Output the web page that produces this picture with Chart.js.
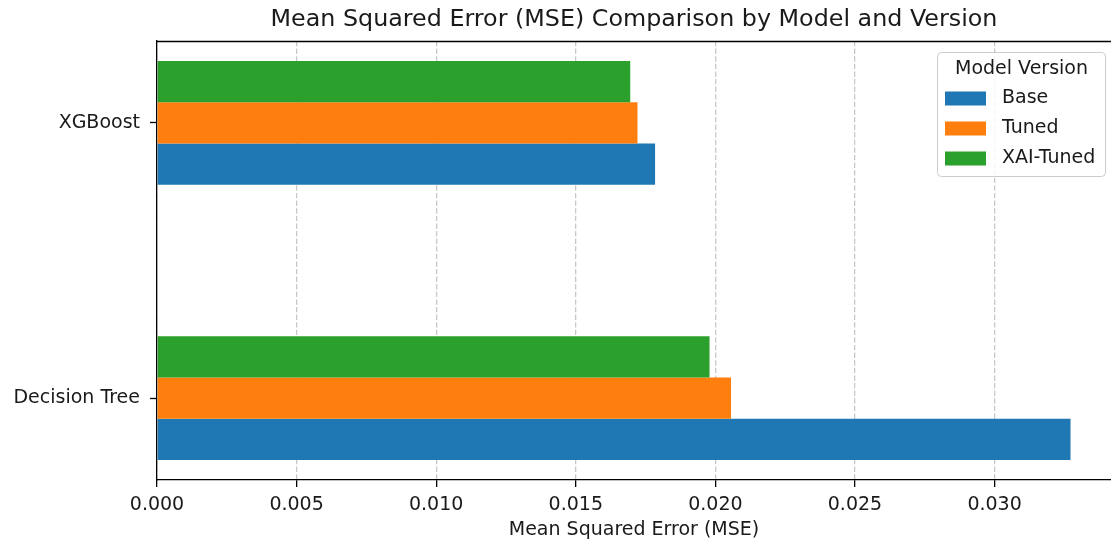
<!DOCTYPE html>
<html>
<head>
<meta charset="utf-8">
<script src="https://cdn.jsdelivr.net/npm/chart.js@4.4.1/dist/chart.umd.min.js"></script>
<style>
  html, body { margin: 0; padding: 0; background: #ffffff; }
  #wrap { width: 1111px; height: 542px; }
</style>
</head>
<body>
<div id="wrap"><canvas id="c" width="1111" height="542"></canvas></div>
<script>
// Models on the vertical axis (bottom to top) and the three model versions
const models = ['Decision Tree', 'XGBoost'];
const versions = ['Base', 'Tuned', 'XAI-Tuned'];

// Mean squared error per model, one array per version
const baseMSE = [0.03272, 0.01784];
const tunedMSE = [0.02056, 0.01721];
const xaiTunedMSE = [0.01979, 0.01695];

const versionColors = ['#1f77b4', '#ff7f0e', '#2ca02c'];
const seriesValues = [baseMSE, tunedMSE, xaiTunedMSE];

const FONT = 'DejaVu Sans';
const TEXT = '#1a1a1a';
const TITLE = 'Mean Squared Error (MSE) Comparison by Model and Version';

// Bars within a group are laid out top-down, so feed the versions in reverse
// to keep Base at the bottom of each group.
const datasets = versions.map((name, i) => ({
  label: name,
  data: models.map((m, j) => ({ x: seriesValues[i][j], y: j })),
  backgroundColor: versionColors[i],
  borderWidth: 0,
  barPercentage: 1.0,
  categoryPercentage: 0.45
})).reverse();

// Title centred over the axes, top frame line and a framed legend inside the plot
const framePlugin = {
  id: 'frameAndLegend',
  afterDraw(chart) {
    const ctx = chart.ctx;
    const area = chart.chartArea;
    ctx.save();

    ctx.fillStyle = TEXT;
    ctx.font = '23.8px "' + FONT + '"';
    ctx.textAlign = 'center';
    ctx.textBaseline = 'middle';
    ctx.fillText(TITLE, (area.left + area.right) / 2, 20);

    ctx.strokeStyle = '#000';
    ctx.lineWidth = 1.3;
    ctx.beginPath();
    ctx.moveTo(area.left, Math.round(area.top) + 0.5);
    ctx.lineTo(area.right, Math.round(area.top) + 0.5);
    ctx.stroke();

    // legend box
    const bx = 937.5, by = 52.5, bw = 168, bh = 124, r = 4;
    ctx.beginPath();
    ctx.moveTo(bx + r, by);
    ctx.lineTo(bx + bw - r, by);
    ctx.quadraticCurveTo(bx + bw, by, bx + bw, by + r);
    ctx.lineTo(bx + bw, by + bh - r);
    ctx.quadraticCurveTo(bx + bw, by + bh, bx + bw - r, by + bh);
    ctx.lineTo(bx + r, by + bh);
    ctx.quadraticCurveTo(bx, by + bh, bx, by + bh - r);
    ctx.lineTo(bx, by + r);
    ctx.quadraticCurveTo(bx, by, bx + r, by);
    ctx.closePath();
    ctx.fillStyle = 'rgba(255,255,255,0.8)';
    ctx.fill();
    ctx.strokeStyle = '#cccccc';
    ctx.lineWidth = 1;
    ctx.stroke();

    ctx.fillStyle = TEXT;
    ctx.font = '19px "' + FONT + '"';
    ctx.textBaseline = 'middle';
    ctx.textAlign = 'center';
    ctx.fillText('Model Version', bx + bw / 2, 69);

    ctx.textAlign = 'left';
    versions.forEach((name, i) => {
      const cy = 98.5 + i * 30;
      ctx.fillStyle = versionColors[i];
      ctx.fillRect(945, cy - 7, 41, 14);
      ctx.fillStyle = TEXT;
      ctx.fillText(name, 1002, cy);
    });
    ctx.restore();
  }
};

new Chart(document.getElementById('c'), {
  type: 'bar',
  data: { datasets },
  plugins: [framePlugin],
  options: {
    indexAxis: 'y',
    responsive: false,
    animation: false,
    devicePixelRatio: 1,
    layout: { padding: { top: 41, left: 0, right: 0, bottom: 0 } },
    plugins: {
      legend: { display: false },
      tooltip: { enabled: false },
      title: { display: false }
    },
    scales: {
      x: {
        type: 'linear',
        position: 'bottom',
        min: 0,
        max: 0.03417,
        z: 1,
        afterFit(scale) { scale.height = 62; },
        ticks: {
          stepSize: 0.005,
          includeBounds: false,
          autoSkip: false,
          maxRotation: 0,
          padding: 7,
          color: TEXT,
          font: { family: FONT, size: 19 },
          callback: (v) => Number(v).toFixed(3)
        },
        grid: {
          display: true,
          drawOnChartArea: true,
          drawTicks: true,
          color: 'rgba(176,176,176,0.7)',
          lineWidth: 1.3,
          tickColor: '#000',
          tickLength: 7,
          tickWidth: 1.3
        },
        border: { display: true, color: '#000', width: 1.3, dash: [5.3, 2.3] },
        title: {
          display: true,
          text: 'Mean Squared Error (MSE)',
          color: TEXT,
          font: { family: FONT, size: 19 },
          padding: { top: 0, bottom: 1 }
        }
      },
      y: {
        type: 'linear',
        position: 'left',
        offset: false,
        min: -0.2975,
        max: 1.2975,
        afterFit(scale) { scale.width = 157; },
        afterBuildTicks(scale) {
          scale.ticks = models.map((m, i) => ({ value: i }));
        },
        ticks: {
          autoSkip: false,
          padding: 10,
          color: TEXT,
          font: { family: FONT, size: 19 },
          callback: (v) => models[v] !== undefined ? models[v] : ''
        },
        grid: {
          display: true,
          offset: false,
          drawOnChartArea: false,
          drawTicks: true,
          tickColor: '#000',
          tickLength: 7,
          tickWidth: 1.3
        },
        border: { display: true, color: '#000', width: 1.3 }
      }
    }
  }
});
</script>
</body>
</html>
